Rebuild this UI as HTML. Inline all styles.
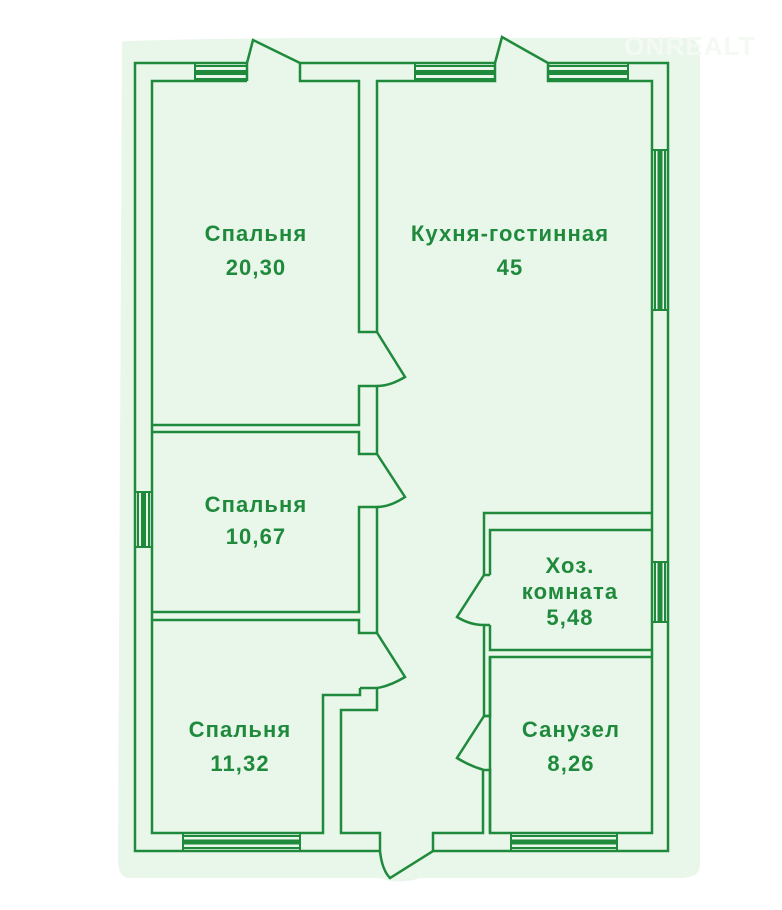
<!DOCTYPE html>
<html><head><meta charset="utf-8"><style>
html,body{margin:0;padding:0;background:#fff;}
svg{display:block}
text{font-family:"Liberation Sans",sans-serif;font-weight:bold;fill:#1f8a3c;text-anchor:middle;font-size:22px;letter-spacing:1.1px}
</style></head><body>
<svg width="782" height="910" viewBox="0 0 782 910" xmlns="http://www.w3.org/2000/svg">
<path d="M122 42 Q118 40 300 38 L690 38 Q700 40 700 60 L700 865 Q700 878 680 878 L420 878 Q400 885 380 878 L130 878 Q118 878 118 860 Z" fill="#e9f6ea"/>
<g fill="none" stroke="#1f8a3c" stroke-width="2.5" stroke-linejoin="miter">
<path d="M247 63 L135 63 L135 851 L380 851"/>
<path d="M433 851 L668 851 L668 63 L548 63"/>
<path d="M300 63 L495 63"/>
<path d="M247 81 L152 81 L152 833 L323 833 L323 695 L360 695 L360 688"/>
<path d="M300 63 L300 81 L359 81 L359 332 L377 332 L377 81 L495 81 L495 63"/>
<path d="M548 63 L548 81 L652 81 L652 833 L490 833 L490 657 L652 657"/>
<path d="M247 63 L247 81"/>
<path d="M247 63 L253 40 L300 63"/>
<path d="M495 63 L502 37 L548 63"/>
<g stroke-width="2">
<path d="M195 63 L195 81 M247 66 L195 66 M247 79 L195 79"/>
<path d="M415 66 L495 66 M415 79 L495 79 M415 63 L415 81"/>
<path d="M548 66 L628 66 M548 79 L628 79 M628 63 L628 81"/>
<path d="M652 150 L668 150 L668 310 L652 310 M655 150 L655 310 M665 150 L665 310"/>
<path d="M652 562 L668 562 L668 622 L652 622 M655 562 L655 622 M665 562 L665 622"/>
<path d="M135 492 L152 492 L152 547 L135 547 M138 492 L138 547 M149 492 L149 547"/>
<path d="M511 833 L511 851 L617 851 L617 833 M511 836 L617 836 M511 848 L617 848"/>
<path d="M183 833 L183 851 L300 851 L300 833 M183 836 L300 836 M183 848 L300 848"/>
</g>
<g stroke-width="5">
<path d="M195 72.5 L247 72.5 M415 72.5 L495 72.5 M548 72.5 L628 72.5 M660 150 L660 310 M660 562 L660 622 M143.5 492 L143.5 547 M511 842 L617 842 M183 842 L300 842"/>
</g>
<path d="M152 425 L359 425 L359 386 L377 386 L377 454 L359 454 L359 432 L152 432"/>
<path d="M152 612 L359 612 L359 507 L377 507 L377 633 L359 633 L359 620 L152 620"/>
<path d="M377 332 L405 377 Q390 386 377 386"/>
<path d="M377 454 L405 497 Q390 507 377 507"/>
<path d="M377 633 L405 677 Q390 686 377 688 L360 688"/>
<path d="M377 688 L377 710 L341 710 L341 833 L380 833 L380 851"/>
<path d="M380 851 Q382 870 390 878 L433 851 L433 833 L483 833 L483 770"/>
<path d="M652 513 L484 513 L484 575"/>
<path d="M652 530 L490 530 L490 575"/>
<path d="M484 575 L457 617 Q470 625 484 625 L484 716 L490 716 L490 657"/>
<path d="M490 625 L490 650 L652 650 M484 625 L490 625 M484 575 L490 575"/>
<path d="M484 716 L457 758 Q470 766 484 770 L490 770 L490 833 M484 716 L490 716"/>
</g>
<text x="256" y="241">Спальня</text><text x="256" y="275">20,30</text>
<text x="510" y="241">Кухня-гостинная</text><text x="510" y="275">45</text>
<text x="256" y="512">Спальня</text><text x="256" y="544">10,67</text>
<text x="570" y="573">Хоз.</text><text x="570" y="599">комната</text><text x="570" y="625">5,48</text>
<text x="240" y="737">Спальня</text><text x="240" y="771">11,32</text>
<text x="571" y="737">Санузел</text><text x="571" y="771">8,26</text>
<text x="690" y="55" style="fill:#f4f9f4;font-size:26px">ONREALT</text>
</svg>
</body></html>
